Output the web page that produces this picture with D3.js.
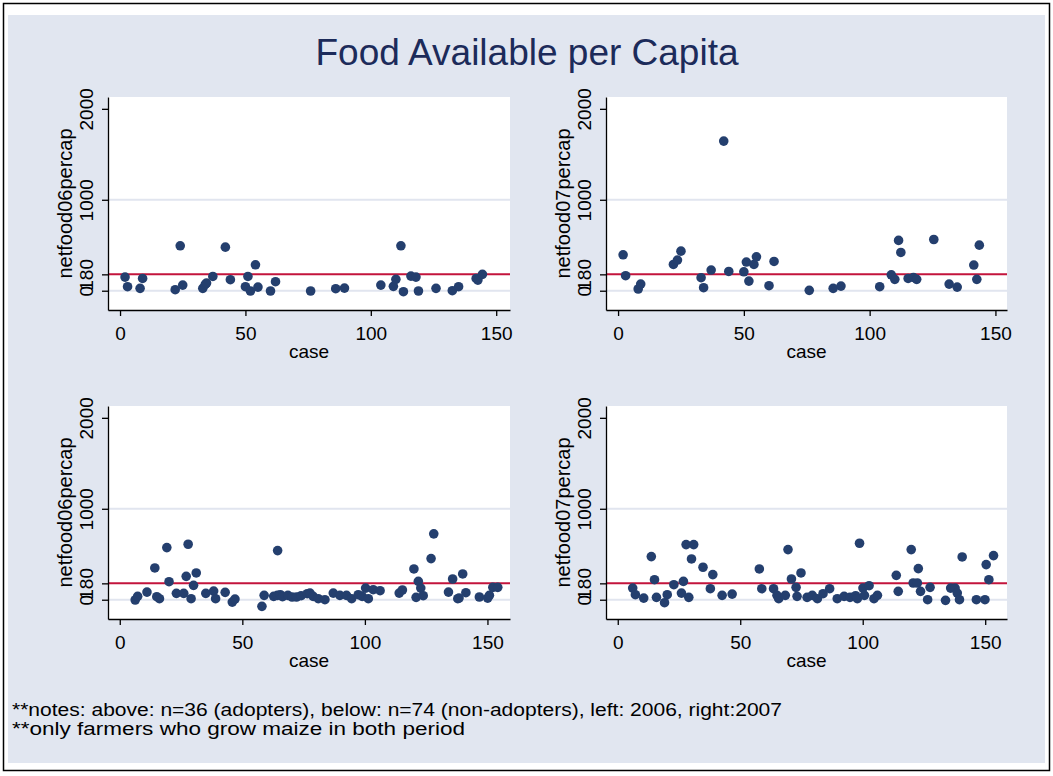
<!DOCTYPE html>
<html>
<head>
<meta charset="utf-8">
<script src="https://cdn.jsdelivr.net/npm/d3@7"></script>
<style>
  body { margin: 0; background: #fff; }
  svg text { font-family: "Liberation Sans", Arial, sans-serif; }
</style>
</head>
<body>
<div class="container"></div>
<script>
const WIDTH = 1053;
const HEIGHT = 776;

// adopters (n=36), 2006 and 2007
var adoptCase06 = [2,3,8,9,22,24,25,33,34,34.5,37,42,44,50,51,52,54,55,60,62,76,86,89.5,104,109,110,112,113,116,118,119,126,132.5,135,142,142.7,144.5];
var adoptFood06 = [150,44,26,135,11,494,62,26,70,84,157,479,121,44,157,-3,285,40,-3,99,-3,22,29,62,48,125,494,-11,161,150,-3,26,0,44,135,117,180];

var adoptCase07 = [2,3,8,9,22,23.6,25,33,34,37,42,44,50,51,52,54,55,60,62,76,85.5,88.6,104,108.6,110,111.5,112.4,115.3,117.4,118.7,125.5,131.6,134.8,141.4,142.6,143.6];
var adoptFood07 = [395,165,19,73,289,337,435,143,33,227,1645,212,208,315,106,289,373,55,322,4,26,51,44,175,125,553,421,135,146,125,563,73,40,282,125,501];

// non-adopters (n=74), 2006 and 2007
var nonCase06 = [6.3,7.3,11.1,14.3,15.1,16.2,19.2,20.1,23.1,26.1,27.1,27.9,29.1,30.1,31.2,35.1,38.3,39.1,43,45.9,47,58,58.9,62.8,64.4,64.3,65.5,66.4,68.6,70.3,72.1,74,76.5,77.6,78.9,81,83.7,87.1,89.8,92.5,94.6,97.3,98.9,100.3,101.4,103.4,106.2,114,115.3,120,121.8,122.8,120.9,123.8,127,128.1,134.1,135.8,137.9,138.4,139.9,141.2,146.7,150.1,150.8,152.2,154.2];
var nonFood06 = [-3,37,84,349,33,11,573,198,70,70,257,610,11,158,294,70,95,11,81,-26,7,-73,48,37,540,48,55,33,48,30,30,44,66,73,37,11,0,73,48,48,11,55,37,128,11,110,99,73,107,338,202,128,26,44,452,724,84,228,11,18,283,77,30,18,48,136,136];

var nonCase07 = [6.1,7.2,10.6,13.7,15,15.8,19.1,20.2,22.9,26,26.8,27.9,31,30.1,29,34.8,38.8,37.8,42.6,46.7,57.8,58.8,63.6,65,65.7,68.4,69.5,70.9,72.8,73.2,74.8,77.3,79.4,81.5,83.8,86.5,89.6,92.4,94.8,97.1,97.8,98.7,100.1,100.7,102.6,104.6,106,113.7,114.5,119.8,120.6,122.3,122.7,123.6,126.5,127.5,133.8,135.9,137.7,138.6,139.5,140.6,146.4,149.9,150.4,151.5,153.4];
var nonFood07 = [128,55,18,474,220,26,-33,55,165,73,202,606,606,448,26,357,276,121,48,62,338,121,121,48,11,48,551,228,136,37,294,26,48,11,66,121,11,37,26,44,11,621,128,48,154,11,48,268,92,551,184,184,342,92,0,136,-7,128,128,73,0,470,0,0,386,220,485];

var yTicks = [0, 180, 1000, 2000];
var gridValues = [0, 1000];
var refLine = 180;
var xTicks = [0, 50, 100, 150];

var titleText = "Food Available per Capita";
var notes = [
  "**notes: above: n=36 (adopters), below: n=74 (non-adopters), left: 2006, right:2007",
  "**only farmers who grow maize in both period"
];
var notesWidth = [770, 453];

var translate = function(x, y){
    return "translate(" + x + "," + y + ")";
};

var panels = [
  {x: 108, y: 97, w: 402, cases: adoptCase06, food: adoptFood06, xMax: 155.5, ytitle: "netfood06percap"},
  {x: 606, y: 97, w: 401, cases: adoptCase07, food: adoptFood07, xMax: 154.6, ytitle: "netfood07percap"},
  {x: 108, y: 406, w: 402, cases: nonCase06, food: nonFood06, xMax: 159.2, ytitle: "netfood06percap"},
  {x: 606, y: 406, w: 401, cases: nonCase07, food: nonFood07, xMax: 158.9, ytitle: "netfood07percap"}
];
const PANEL_H = 213;

var drawPanel = function(svg, p){
    var xScale = d3.scaleLinear().domain([-4.8, p.xMax]).range([0, p.w]);
    var yScale = d3.scaleLinear().domain([-212, 2130]).range([PANEL_H, 0]);

    var g = svg.append('g').attr('transform', translate(p.x, p.y));

    g.append('rect')
        .attr('width', p.w).attr('height', PANEL_H)
        .attr('fill', '#fff');

    g.selectAll('.grid').data(gridValues).enter()
        .append('line')
        .attr('x1', 0).attr('x2', p.w)
        .attr('y1', function(d){ return yScale(d); })
        .attr('y2', function(d){ return yScale(d); })
        .attr('stroke', '#e1e5ef').attr('stroke-width', 2);

    g.append('line')
        .attr('x1', 0).attr('x2', p.w)
        .attr('y1', yScale(refLine)).attr('y2', yScale(refLine))
        .attr('stroke', '#c3143c').attr('stroke-width', 2);

    var pts = p.cases.map(function(c, i){ return {x: c, y: p.food[i]}; });
    g.append('g').selectAll('circle').data(pts).enter()
        .append('circle')
        .attr('r', 4.8)
        .attr('cx', function(d){ return xScale(d.x); })
        .attr('cy', function(d){ return yScale(d.y); })
        .attr('fill', '#243f6e');

    var yAxis = d3.axisLeft(yScale).tickValues(yTicks).tickSize(6).tickSizeOuter(0).tickFormat(d3.format('d'));
    var ya = g.append('g').call(yAxis);
    ya.selectAll('text')
        .attr('transform', 'rotate(-90)')
        .attr('x', 0).attr('y', -15).attr('dy', 0)
        .style('text-anchor', 'middle')
        .style('font-size', '19px').attr('fill', '#000');

    var xAxis = d3.axisBottom(xScale).tickValues(xTicks).tickSize(6).tickSizeOuter(0);
    var xa = g.append('g').attr('transform', translate(0, PANEL_H)).call(xAxis);
    xa.selectAll('text')
        .attr('y', 30).attr('dy', 0)
        .style('font-size', '19px').attr('fill', '#000');

    [ya, xa].forEach(function(a){
        a.select('.domain').attr('stroke', '#000').attr('stroke-width', 1.3);
        a.selectAll('.tick line').attr('stroke', '#000').attr('stroke-width', 1.3);
    });

    g.append('text')
        .attr('x', p.w / 2).attr('y', PANEL_H + 48)
        .attr('text-anchor', 'middle')
        .style('font-size', '19px')
        .text('case');

    g.append('text')
        .attr('transform', translate(-36, PANEL_H / 2) + ' rotate(-90)')
        .attr('text-anchor', 'middle')
        .style('font-size', '20px')
        .text(p.ytitle);
};

var loadChart = function(){
    var svg = d3.select('.container').append('svg')
        .attr('width', WIDTH)
        .attr('height', HEIGHT);

    svg.append('rect')
        .attr('x', 3.5).attr('y', 3.5)
        .attr('width', 1046).attr('height', 767)
        .attr('fill', '#fff').attr('stroke', '#000').attr('stroke-width', 1.5);

    svg.append('rect')
        .attr('x', 8).attr('y', 15)
        .attr('width', 1037).attr('height', 748)
        .attr('fill', '#e1e6f0');

    svg.append('text')
        .attr('x', 527).attr('y', 65)
        .attr('text-anchor', 'middle')
        .style('font-size', '37px')
        .attr('fill', '#1c2b5a')
        .text(titleText);

    panels.forEach(function(p){ drawPanel(svg, p); });

    svg.append('g').selectAll('text').data(notes).enter()
        .append('text')
        .attr('x', 12)
        .attr('y', function(d, i){ return 716 + i * 19; })
        .attr('textLength', function(d, i){ return notesWidth[i]; })
        .attr('lengthAdjust', 'spacingAndGlyphs')
        .style('font-size', '17.5px')
        .text(function(d){ return d; });
};

window.onload = loadChart;
</script>
</body>
</html>
